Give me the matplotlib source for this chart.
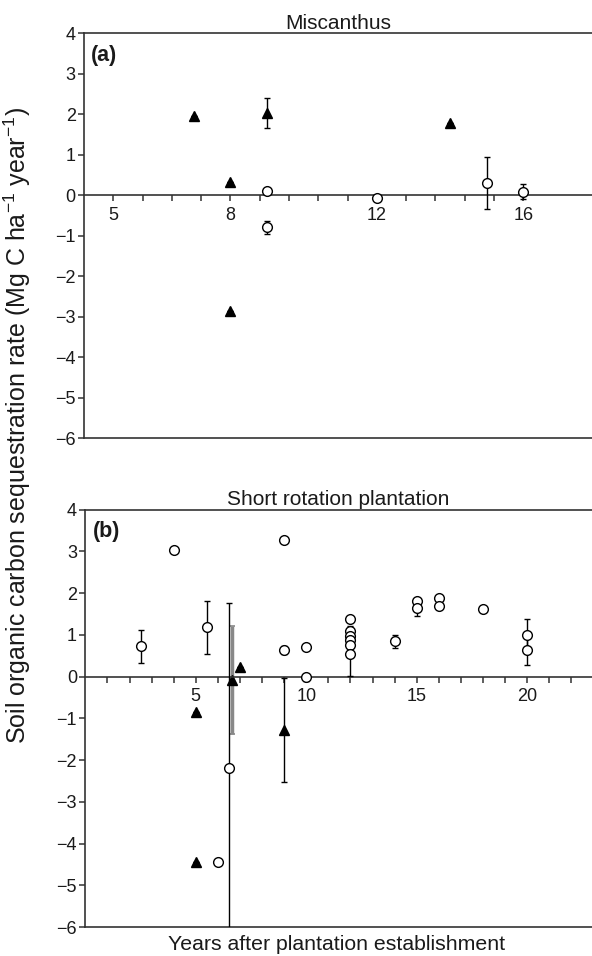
import numpy as np
import matplotlib
matplotlib.use("Agg")
import matplotlib.pyplot as plt

plt.rcParams['font.family'] = ['Liberation Sans', 'DejaVu Sans']
plt.rcParams['mathtext.default'] = 'regular'

# ---------------- data ----------------
# Panel (a) Miscanthus
a_tri_x = [7, 8, 9, 14, 8]
a_tri_y = [1.95, 0.33, 2.03, 1.80, -2.85]
a_tri_err = [0, 0, 0.37, 0, 0]

a_circ_x = [9, 9, 12, 15, 16]
a_circ_y = [0.10, -0.79, -0.07, 0.31, 0.09]
a_circ_err = [0, 0.16, 0.05, 0.64, 0.18]

a_tick_pos = [4.8 + 0.8 * k for k in range(15)]
a_tick_lab = {0: "5", 4: "8", 9: "12", 14: "16"}

# Panel (b) Short rotation plantation
b_circ_x = [2.5, 4, 5.5, 9, 9, 10, 10, 12, 12, 12, 12, 12, 12, 14, 15, 15, 16, 16, 18, 20, 20, 6.5, 6]
b_circ_y = [0.72, 3.04, 1.18, 3.28, 0.64, 0.70, -0.02, 1.38, 1.10, 0.96, 0.88, 0.76, 0.54,
            0.84, 1.80, 1.63, 1.88, 1.70, 1.62, 1.00, 0.64, -2.20, -4.45]
b_circ_err = [0.40, 0, 0.63, 0, 0.10, 0.02, 0.08, 0, 0.10, 0.10, 0.10, 0.10, 0.53,
              0.16, 0, 0.17, 0, 0, 0, 0.37, 0.37, 3.95, 0]

b_tri_x = [5, 5, 7, 9]
b_tri_y = [-0.84, -4.44, 0.24, -1.28]
b_tri_err = [0, 0, 0, 1.24]

b_gtri_x = [6.65]
b_gtri_y = [-0.08]
b_gtri_err = [1.29]

b_tick_pos = list(range(1, 23))
b_tick_lab = {5: "5", 10: "10", 15: "15", 20: "20"}

# ---------------- figure ----------------
fig = plt.figure(figsize=(5.92, 9.56), dpi=100)
ax_a = fig.add_axes([0.1419, 0.5415, 1 - 0.1419, 0.965 - 0.5415])
ax_b = fig.add_axes([0.1441, 0.0303, 1 - 0.1441, 0.467 - 0.0303])

txt = '#1a1a1a'
ms_c = 7.0
ms_t = 7.5
fs = 13


def style(ax, xlim, ticks, title, tag):
    ax.set_xlim(*xlim)
    ax.set_ylim(-6, 4)
    ax.set_yticks(range(-6, 5))
    ax.spines['right'].set_visible(False)
    ax.spines['bottom'].set_position(('data', 0))
    for s in ['left', 'bottom', 'top']:
        ax.spines[s].set_color('#333333')
        ax.spines[s].set_linewidth(1.2)
    ax.plot([0, 1], [0, 0], transform=ax.transAxes, color='#333333', lw=1.2, clip_on=False)
    ax.set_xticks(ticks)
    ax.tick_params(axis='both', direction='out', length=4, width=1.1, color='#333333',
                   labelsize=fs, labelcolor=txt)
    ax.tick_params(axis='x', pad=4)
    ax.tick_params(axis='y', pad=2)
    ax.set_title(title, fontsize=15, color=txt, pad=3)
    ax.text(0.014, 0.972, tag, transform=ax.transAxes, fontsize=15.5, fontweight='bold',
            va='top', ha='left', color=txt)


# Panel a
style(ax_a, (4.0, 17.88), a_tick_pos, "Miscanthus", "(a)")
ax_a.set_xticklabels([a_tick_lab.get(i, "") for i in range(len(a_tick_pos))])
ax_a.errorbar(a_circ_x, a_circ_y, yerr=a_circ_err, fmt='o', mfc='white', mec='black', mew=1.0,
              ms=ms_c, ecolor='black', elinewidth=1.0, capsize=2.5, capthick=1.0, zorder=3)
ax_a.errorbar(a_tri_x, a_tri_y, yerr=a_tri_err, fmt='^', mfc='black', mec='black',
              ms=ms_t, ecolor='black', elinewidth=1.0, capsize=2.5, capthick=1.0, zorder=4)

# Panel b
style(ax_b, (0.0, 22.93), b_tick_pos, "Short rotation plantation", "(b)")
ax_b.set_xticklabels([b_tick_lab.get(t, "") for t in b_tick_pos])
ax_b.errorbar(b_circ_x, b_circ_y, yerr=b_circ_err, fmt='o', mfc='white', mec='black', mew=1.0,
              ms=ms_c, ecolor='black', elinewidth=1.0, capsize=2.5, capthick=1.0, zorder=3)
ax_b.errorbar(b_gtri_x, b_gtri_y, yerr=b_gtri_err, fmt='^', mfc='black', mec='black',
              ms=ms_t, ecolor='#888888', elinewidth=2.5, capsize=2.5, capthick=1.2, zorder=2)
ax_b.errorbar(b_tri_x, b_tri_y, yerr=b_tri_err, fmt='^', mfc='black', mec='black',
              ms=ms_t, ecolor='black', elinewidth=1.0, capsize=2.5, capthick=1.0, zorder=4)

fig.text(0.03, 0.555, r'Soil organic carbon sequestration rate (Mg C ha$^{-1}$ year$^{-1}$)',
         rotation=90, ha='center', va='center', fontsize=18, color=txt)
fig.text(0.568, 0.006, 'Years after plantation establishment', ha='center', va='baseline',
         fontsize=15.3, color=txt)

fig.savefig('out.png', dpi=100)
